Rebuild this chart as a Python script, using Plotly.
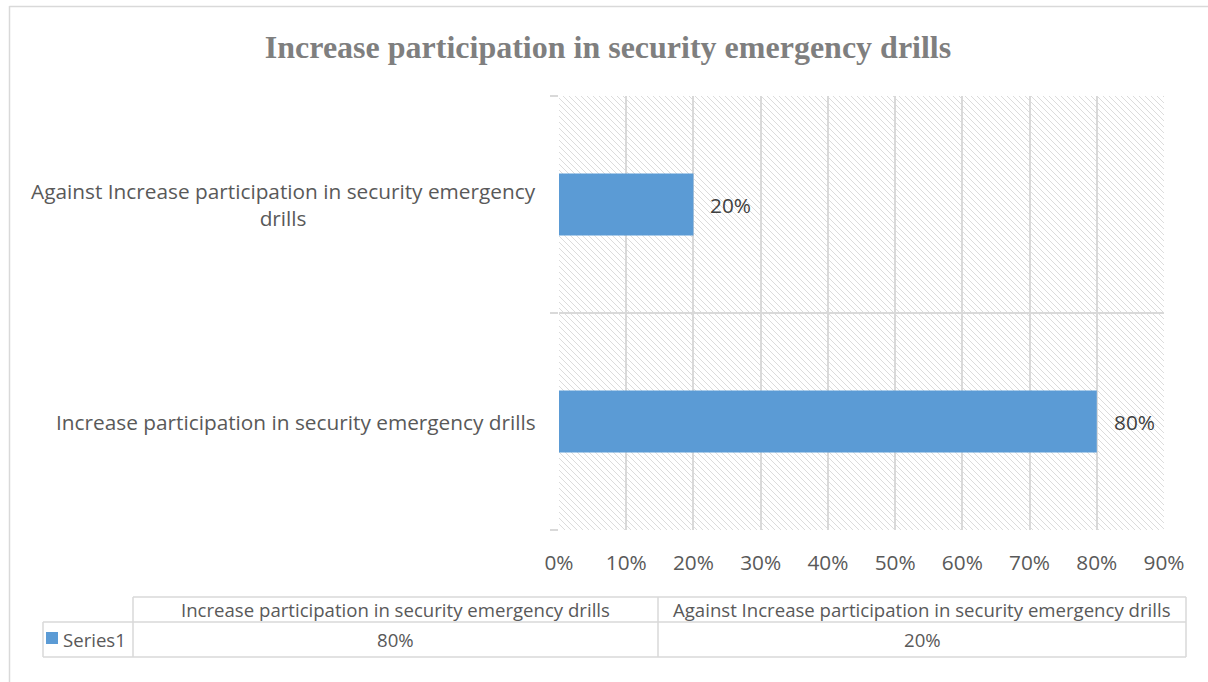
import plotly.graph_objects as go

# ---- data ----
categories = ["Increase participation in security emergency drills",
              "Against Increase participation in security emergency drills"]
cat_labels = ["Increase participation in security emergency drills",
              "Against Increase participation in security emergency<br>drills"]
values = [80, 20]
series_name = "Series1"
x_ticks = [0, 10, 20, 30, 40, 50, 60, 70, 80, 90]
title = "Increase participation in security emergency drills"

# ---- layout geometry ----
W_FIG, H_FIG = 1208, 682
L, R, T, B = 559, 44, 96, 152
PW = W_FIG - L - R
PH = H_FIG - T - B

def px(x):
    return (x - L) / PW

def py(y):
    return (H_FIG - B - y) / PH

TXT = "#595959"
GRID = "#d9d9d9"
BLUE = "#5B9BD5"
FONT = "Open Sans, sans-serif"
FS = 20.8
FS_T = 18.6

fig = go.Figure()
fig.add_trace(go.Bar(
    y=categories, x=values, orientation="h", width=0.286,
    marker=dict(color=BLUE, line=dict(width=0)), name=series_name,
    hoverinfo="x+y"))

# hatch background of plot area
step = 6
segs = []
c = 0
while c <= PW + PH:
    x0, y0 = max(0, c - PH), min(PH, c)
    x1, y1 = min(PW, c), max(0, c - PW)
    segs.append(f"M{x0/PW:.5f},{y0/PH:.5f} L{x1/PW:.5f},{y1/PH:.5f}")
    c += step
shapes = [dict(type="path", path=" ".join(segs), xref="paper", yref="paper",
               line=dict(color="#dcdcdc", width=1), layer="below")]

# outer border (left and top)
shapes.append(dict(type="line", xref="paper", yref="paper",
                   x0=px(9.5), x1=px(9.5), y0=py(6), y1=py(700),
                   line=dict(color=GRID, width=1.5)))
shapes.append(dict(type="line", xref="paper", yref="paper",
                   x0=px(9.5), x1=px(1220), y0=py(6.5), y1=py(6.5),
                   line=dict(color=GRID, width=1.5)))

# data table lines
tb_top, tb_mid, tb_bot = 597, 622, 657
c_left, c_a, c_b, c_right = 43, 133, 658, 1186
def hline(y, xa, xb):
    shapes.append(dict(type="line", xref="paper", yref="paper",
                       x0=px(xa), x1=px(xb), y0=py(y), y1=py(y),
                       line=dict(color=GRID, width=1.5)))
def vline(x, ya, yb):
    shapes.append(dict(type="line", xref="paper", yref="paper",
                       x0=px(x), x1=px(x), y0=py(ya), y1=py(yb),
                       line=dict(color=GRID, width=1.5)))
hline(tb_top, c_a, c_right)
hline(tb_mid, c_left, c_right)
hline(tb_bot, c_left, c_right)
vline(c_left, tb_mid, tb_bot)
vline(c_a, tb_top, tb_bot)
vline(c_b, tb_top, tb_bot)
vline(c_right, tb_top, tb_bot)
# legend key
shapes.append(dict(type="rect", xref="paper", yref="paper",
                   x0=px(46), x1=px(58), y0=py(644), y1=py(632),
                   fillcolor=BLUE, line=dict(width=0)))

annotations = []
# category labels
for cat, lab in zip(categories, cat_labels):
    annotations.append(dict(x=0, xref="paper", y=cat, yref="y", text=lab,
                            xanchor="right", yanchor="middle", align="center",
                            xshift=-21, showarrow=False,
                            font=dict(size=FS, color=TXT, family=FONT)))
# data labels
for cat, v in zip(categories, values):
    annotations.append(dict(x=v, xref="x", y=cat, yref="y", text=f"{v}%",
                            xanchor="left", yanchor="middle", xshift=15,
                            showarrow=False,
                            font=dict(size=FS, color="#404040", family=FONT)))
# table texts
cols = [(c_a, c_b), (c_b, c_right)]
for (xa, xb), cat, v in zip(cols, categories, values):
    annotations.append(dict(x=px((xa + xb) / 2), xref="paper",
                            y=py((tb_top + tb_mid) / 2), yref="paper",
                            text=cat, showarrow=False, xanchor="center", yanchor="middle",
                            font=dict(size=FS_T, color=TXT, family=FONT)))
    annotations.append(dict(x=px((xa + xb) / 2), xref="paper",
                            y=py((tb_mid + tb_bot) / 2), yref="paper",
                            text=f"{v}%", showarrow=False, xanchor="center", yanchor="middle",
                            font=dict(size=FS_T, color=TXT, family=FONT)))
annotations.append(dict(x=px(61), xref="paper", y=py((tb_mid + tb_bot) / 2), yref="paper",
                        text=series_name, showarrow=False, xanchor="left", yanchor="middle",
                        font=dict(size=FS_T, color=TXT, family=FONT)))

fig.update_layout(
    width=W_FIG, height=H_FIG,
    margin=dict(l=L, r=R, t=T, b=B),
    paper_bgcolor="white", plot_bgcolor="rgba(0,0,0,0)",
    showlegend=False,
    title=dict(text=f"<b>{title}</b>", x=608 / W_FIG, xanchor="center",
               y=1 - 47 / H_FIG, yanchor="middle",
               font=dict(family="Liberation Serif, Times New Roman, serif", size=32, color="#7f7f7f")),
    xaxis=dict(range=[0, 90], tickvals=x_ticks, ticktext=[f"{t}%" for t in x_ticks],
               showgrid=True, gridcolor=GRID, gridwidth=1.5, zeroline=False,
               showline=False, ticks="", ticklabelstandoff=18,
               tickfont=dict(size=FS, color=TXT, family=FONT), fixedrange=True),
    yaxis=dict(categoryorder="array", categoryarray=categories,
               tickson="boundaries", showgrid=True, gridcolor=GRID, gridwidth=1.5,
               ticks="outside", ticklen=8, tickcolor=GRID, tickwidth=1.5,
               showticklabels=False, showline=False, zeroline=False,
               range=[-0.5, 1.5], fixedrange=True),
    shapes=shapes, annotations=annotations,
)

fig.write_html("out.html")
